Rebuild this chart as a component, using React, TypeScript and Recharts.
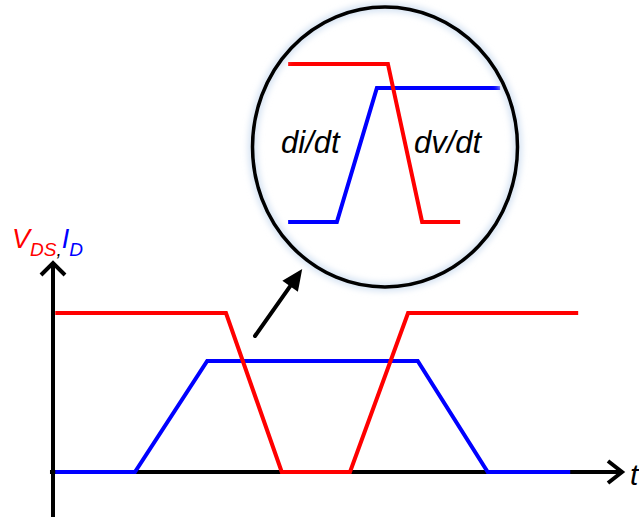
import { LineChart, Line, XAxis, YAxis, ReferenceLine, ReferenceDot } from "recharts";

// switching waveforms, main view (time in % of span, level in arbitrary units)
const vdsTime = [0.4, 30.4, 40.2, 52.2, 62.4, 92.3];
const vdsLevel = [79.5, 79.5, 0, 0, 79.5, 79.5];
const idTime = [0.4, 14.4, 27.1, 64.1, 76.4, 90.9];
const idLevel = [0, 0, 55.5, 55.5, 0, 0];

// magnified turn-on edge shown in the bubble
const zoomVdsTime = [16.6, 51, 62.8, 75.9];
const zoomVdsLevel = [78.7, 78.7, 26, 26];
const zoomIdTime = [16.6, 33.4, 47.2, 89.7];
const zoomIdLevel = [26, 26, 70.7, 70.7];

const RED = "#ff0000";
const BLUE = "#0000ff";

const toPoints = (ts: number[], vs: number[]) => ts.map((t, i) => ({ t, v: vs[i] }));

const vds = toPoints(vdsTime, vdsLevel);
const id = toPoints(idTime, idLevel);
const zoomVds = toPoints(zoomVdsTime, zoomVdsLevel);
const zoomId = toPoints(zoomIdTime, zoomIdLevel);

// axis line with an open chevron at its end
const axisArrow = (depth: number, half: number) => (p: any) => {
  const { x1, y1, x2, y2 } = p;
  const len = Math.hypot(x2 - x1, y2 - y1);
  const ux = (x2 - x1) / len;
  const uy = (y2 - y1) / len;
  const nx = -uy;
  const ny = ux;
  const bx = x2 - depth * ux;
  const by = y2 - depth * uy;
  return (
    <g>
      <line x1={x1} y1={y1} x2={x2 - 2 * ux} y2={y2 - 2 * uy} stroke="#000" strokeWidth={4} />
      <polyline
        points={`${bx + half * nx},${by + half * ny} ${x2},${y2} ${bx - half * nx},${by - half * ny}`}
        fill="none"
        stroke="#000"
        strokeWidth={4}
        strokeLinejoin="miter"
      />
    </g>
  );
};

// pointer with a solid head
const pointerArrow = (p: any) => {
  const { x1, y1, x2, y2 } = p;
  const len = Math.hypot(x2 - x1, y2 - y1);
  const ux = (x2 - x1) / len;
  const uy = (y2 - y1) / len;
  const nx = -uy;
  const ny = ux;
  const head = 21;
  const half = 9.5;
  const bx = x2 - head * ux;
  const by = y2 - head * uy;
  return (
    <g>
      <line x1={x1} y1={y1} x2={bx + 2 * ux} y2={by + 2 * uy} stroke="#000" strokeWidth={4} strokeLinecap="round" />
      <polygon
        points={`${bx + half * nx},${by + half * ny} ${x2},${y2} ${bx - half * nx},${by - half * ny}`}
        fill="#000"
      />
    </g>
  );
};

const bubble = (p: any) => {
  const { cx, cy } = p;
  return (
    <g>
      <defs>
        <filter id="glow" x="-20%" y="-20%" width="140%" height="140%">
          <feGaussianBlur stdDeviation="3" />
        </filter>
      </defs>
      <ellipse cx={cx} cy={cy} rx={132.5} ry={140} fill="none" stroke="#d6e3f3" strokeWidth={9} filter="url(#glow)" />
      <ellipse cx={cx} cy={cy} rx={132.5} ry={140} fill="none" stroke="#000" strokeWidth={3.5} />
    </g>
  );
};

const textFont = "'Liberation Sans', Arial, sans-serif";

export default function App() {
  return (
    <div style={{ position: "absolute", left: 0, top: 0, width: 639, height: 517, background: "#fff", overflow: "hidden" }}>
      <div style={{ position: "absolute", left: 0, top: 0 }}>
        <LineChart width={639} height={517} margin={{ top: 263, right: 17, bottom: 0, left: 53 }}>
          <XAxis type="number" dataKey="t" domain={[0, 100]} allowDataOverflow hide />
          <YAxis type="number" dataKey="v" domain={[-22.5, 104.5]} allowDataOverflow hide />
          <ReferenceLine
            segment={[{ x: 0, y: -22.5 }, { x: 0, y: 104.5 }]}
            ifOverflow="visible"
            shape={axisArrow(12, 12)}
            zIndex={-10}
          />
          <ReferenceLine
            segment={[{ x: -0.53, y: 0 }, { x: 100, y: 0 }]}
            ifOverflow="visible"
            shape={axisArrow(14, 11)}
            zIndex={-10}
          />
          <ReferenceLine
            segment={[{ x: 35.5, y: 68 }, { x: 43.8, y: 101.5 }]}
            ifOverflow="visible"
            shape={pointerArrow}
          />
          <Line data={id} dataKey="v" type="linear" stroke={BLUE} strokeWidth={4} dot={false} activeDot={false} isAnimationActive={false} />
          <Line data={vds} dataKey="v" type="linear" stroke={RED} strokeWidth={4} dot={false} activeDot={false} isAnimationActive={false} />
        </LineChart>
      </div>

      <div style={{ position: "absolute", left: 240, top: 0 }}>
        <LineChart width={290} height={300} margin={{ top: 0, right: 0, bottom: 0, left: 0 }}>
          <XAxis type="number" dataKey="t" domain={[0, 100]} allowDataOverflow hide />
          <YAxis type="number" dataKey="v" domain={[0, 100]} allowDataOverflow hide />
          <ReferenceDot x={50} y={51} r={1} ifOverflow="visible" shape={bubble} />
          <Line data={zoomId} dataKey="v" type="linear" stroke={BLUE} strokeWidth={4} dot={false} activeDot={false} isAnimationActive={false} />
          <Line data={zoomVds} dataKey="v" type="linear" stroke={RED} strokeWidth={4} dot={false} activeDot={false} isAnimationActive={false} />
        </LineChart>
      </div>

      <svg width={639} height={517} style={{ position: "absolute", left: 0, top: 0, pointerEvents: "none" }}>
        <g fontFamily={textFont} fontStyle="italic">
          <text x={12} y={248} fontSize={27}>
            <tspan fill={RED}>V</tspan>
            <tspan fill={RED} fontSize={19} dy={8}>DS</tspan>
            <tspan fill="#000" fontSize={19}>,</tspan>
            <tspan fill={BLUE} dy={-8}>I</tspan>
            <tspan fill={BLUE} fontSize={19} dy={8}>D</tspan>
          </text>
          <text x={630} y={485} fontSize={30} fill="#000">t</text>
          <text x={281} y={153} fontSize={31} fill="#000">di/dt</text>
          <text x={414} y={153} fontSize={31} fill="#000">dv/dt</text>
        </g>
      </svg>
    </div>
  );
}
